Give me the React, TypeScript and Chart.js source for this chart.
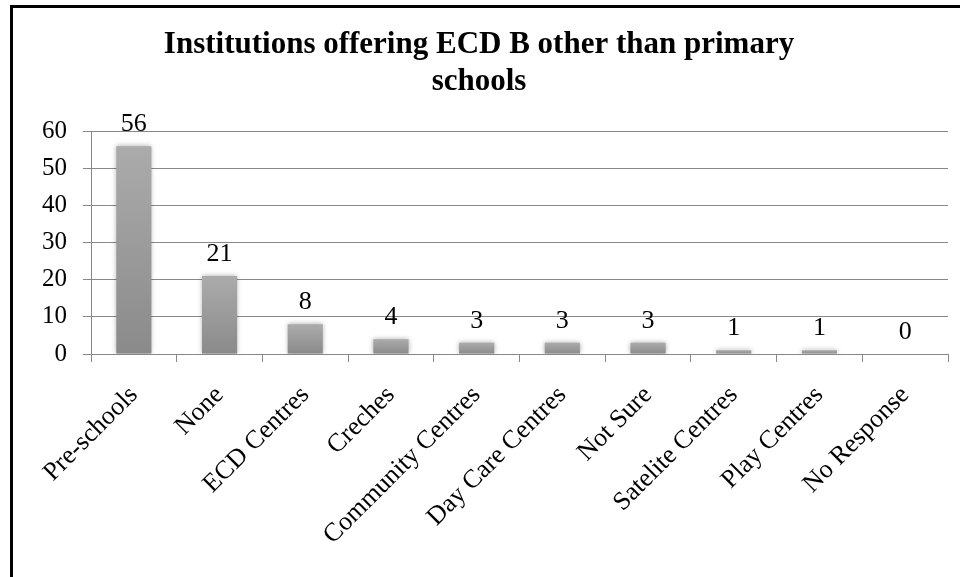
import React, { useEffect, useRef } from "react";
import { Chart, registerables } from "chart.js";

Chart.register(...registerables);

const categories = [
  "Pre-schools",
  "None",
  "ECD Centres",
  "Creches",
  "Community Centres",
  "Day Care Centres",
  "Not Sure",
  "Satelite Centres",
  "Play Centres",
  "No Response",
];
const values = [56, 21, 8, 4, 3, 3, 3, 1, 1, 0];
const titleLines = ["Institutions offering ECD B other than primary", "schools"];
const yMin = 0;
const yMax = 60;
const yStep = 10;

const FONT = "'Liberation Serif', 'Times New Roman', serif";

const dataLabelPlugin = {
  id: "dataLabels",
  afterDatasetsDraw(chart: any) {
    const ctx = chart.ctx;
    const meta = chart.getDatasetMeta(0);
    ctx.save();
    ctx.fillStyle = "#000";
    ctx.font = `26px ${FONT}`;
    ctx.textAlign = "center";
    ctx.textBaseline = "alphabetic";
    meta.data.forEach((bar: any, i: number) => {
      ctx.fillText(String(values[i]), bar.x, bar.y - 15);
    });
    ctx.restore();
  },
};

const shadowPlugin = {
  id: "barShadow",
  beforeDatasetsDraw(chart: any) {
    const ctx = chart.ctx;
    ctx.save();
    ctx.shadowColor = "rgba(0,0,0,0.35)";
    ctx.shadowBlur = 5;
    ctx.shadowOffsetX = 0;
    ctx.shadowOffsetY = 0;
  },
  afterDatasetsDraw(chart: any) {
    chart.ctx.restore();
  },
};

export default function App() {
  const canvasRef = useRef<HTMLCanvasElement | null>(null);

  useEffect(() => {
    if (!canvasRef.current) return;
    const chart = new Chart(canvasRef.current, {
      type: "bar",
      data: {
        labels: categories,
        datasets: [
          {
            data: values,
            backgroundColor: (c: any) => {
              const ch = c.chart;
              const ys = ch.scales && ch.scales.y;
              if (!ch.chartArea || !ys || c.dataIndex === undefined) return "#9a9a9a";
              const top = ys.getPixelForValue(values[c.dataIndex]);
              const base = ys.getPixelForValue(0);
              if (!isFinite(top) || !isFinite(base) || base - top < 1) return "#9a9a9a";
              const g = ch.ctx.createLinearGradient(0, top, 0, base);
              g.addColorStop(0, "#ababab");
              g.addColorStop(1, "#8a8a8a");
              return g;
            },
            borderWidth: 0,
            barPercentage: 0.41,
            categoryPercentage: 1,
          },
        ],
      },
      options: {
        responsive: false,
        animation: false,
        layout: { padding: { left: 10, right: 12, top: 0, bottom: 0 } },
        plugins: {
          legend: { display: false },
          tooltip: { enabled: false },
          title: {
            display: true,
            text: titleLines,
            color: "#000",
            font: { family: FONT, size: 31, weight: "bold", lineHeight: 1.2 },
            padding: { top: 26, bottom: 31 },
          },
        },
        scales: {
          x: {
            grid: {
              offset: true,
              drawOnChartArea: false,
              drawTicks: true,
              tickLength: 8,
              color: "#888",
            },
            border: { color: "#888", width: 1 },
            ticks: {
              color: "#000",
              font: { family: FONT, size: 26 },
              minRotation: 45,
              maxRotation: 45,
              autoSkip: false,
              padding: 18,
            },
            afterFit: (s: any) => {
              s.height = 223;
            },
          },
          y: {
            min: yMin,
            max: yMax,
            grid: { color: "#888", tickLength: 8, drawTicks: true },
            border: { color: "#888", width: 1 },
            ticks: {
              stepSize: yStep,
              color: "#000",
              font: { family: FONT, size: 25 },
              padding: 16,
            },
            afterFit: (s: any) => {
              s.width = 81;
            },
          },
        },
      },
      plugins: [shadowPlugin, dataLabelPlugin],
    });
    return () => chart.destroy();
  }, []);

  return (
    <div
      style={{
        position: "fixed",
        left: 0,
        top: 0,
        width: 960,
        height: 577,
        overflow: "hidden",
        background: "#fff",
      }}
    >
      <canvas ref={canvasRef} width={960} height={577} style={{ display: "block" }} />
      <div
        style={{
          position: "absolute",
          left: 10,
          top: 5,
          width: 970,
          height: 600,
          borderLeft: "3px solid #000",
          borderTop: "3px solid #000",
          pointerEvents: "none",
        }}
      />
    </div>
  );
}
